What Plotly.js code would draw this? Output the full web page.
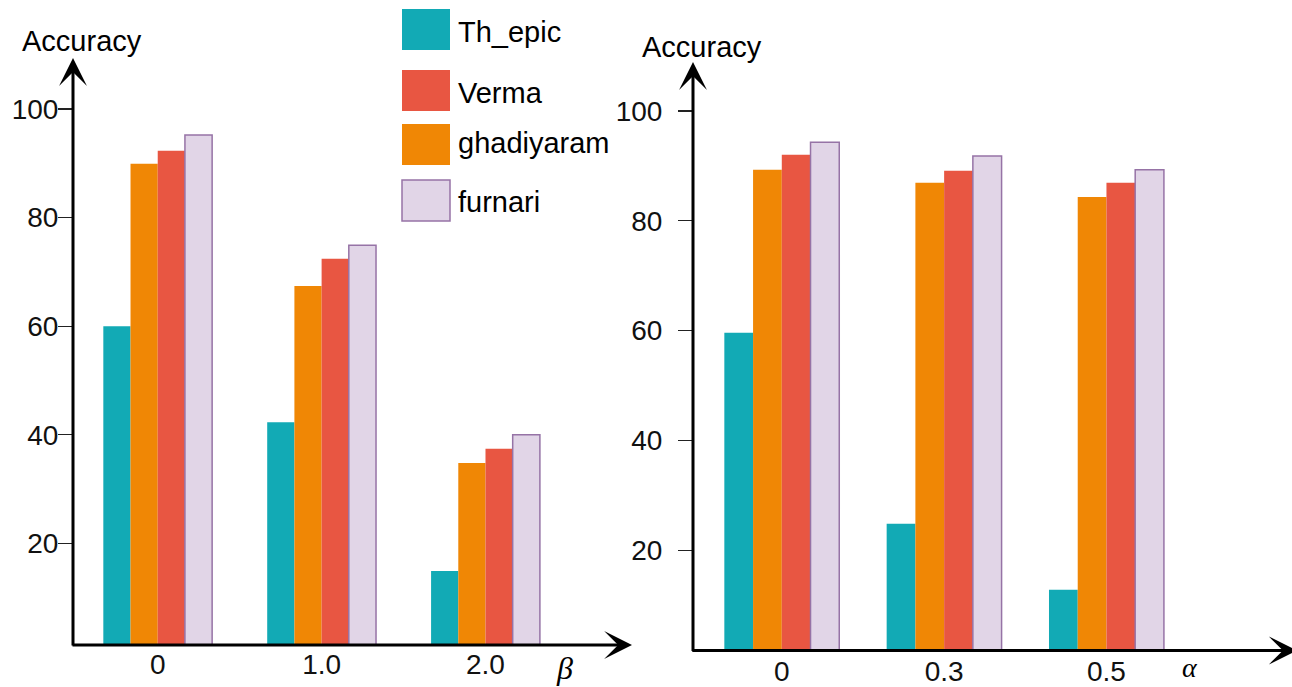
<!DOCTYPE html>
<html>
<head>
<meta charset="utf-8">
<script src="https://cdn.plot.ly/plotly-3.0.1.min.js"></script>
<style>
  html, body { margin: 0; padding: 0; background: #fff; }
  #chart { width: 1292px; height: 687px; }
</style>
</head>
<body>
<div id="chart"></div>
<script>
// ---------------- data ----------------
const betaGroups = ['0', '1.0', '2.0'];
const alphaGroups = ['0', '0.3', '0.5'];
const seriesNames = ['Th_epic', 'Verma', 'ghadiyaram', 'furnari'];

const betaThEpic = [60.0, 42.3, 14.9];
const betaVerma = [92.3, 72.4, 37.4];
const betaGhadiyaram = [89.9, 67.4, 34.8];
const betaFurnari = [95.2, 74.9, 40.0];

const alphaThEpic = [59.6, 24.8, 12.8];
const alphaVerma = [92.0, 89.1, 86.9];
const alphaGhadiyaram = [89.3, 86.9, 84.3];
const alphaFurnari = [94.3, 91.8, 89.3];

const yTickVals = [20, 40, 60, 80, 100];
const yTickText = ['20', '40', '60', '80', '100'];
const yTitle = 'Accuracy';
const betaLabel = 'β';
const alphaLabel = 'α';

// ---------------- styles ----------------
const W = 1292, H = 687;
const FONT = 'Liberation Sans, Arial, Helvetica, sans-serif';
const colors = {
  'Th_epic': '#12AAB5',
  'Verma': '#E85642',
  'ghadiyaram': '#F08705',
  'furnari': '#E1D5E7'
};
const borders = { 'furnari': '#9673A6' };
const barOrder = ['Th_epic', 'ghadiyaram', 'Verma', 'furnari'];

const px = v => v / W;
const py = v => 1 - v / H;

const betaValues = { 'Th_epic': betaThEpic, 'Verma': betaVerma, 'ghadiyaram': betaGhadiyaram, 'furnari': betaFurnari };
const alphaValues = { 'Th_epic': alphaThEpic, 'Verma': alphaVerma, 'ghadiyaram': alphaGhadiyaram, 'furnari': alphaFurnari };

const wLeft = 0.166, wRight = 0.177;
const traces = [];
barOrder.forEach((name, i) => {
  const line = borders[name] ? { color: borders[name], width: 1.5 } : { width: 0 };
  traces.push({
    type: 'bar', name: name, x: betaGroups, y: betaValues[name],
    xaxis: 'x', yaxis: 'y',
    width: wLeft, offset: (i - 2) * wLeft,
    marker: { color: colors[name], line: line },
    showlegend: false, hoverinfo: 'skip'
  });
  traces.push({
    type: 'bar', name: name, x: alphaGroups, y: alphaValues[name],
    xaxis: 'x2', yaxis: 'y2',
    width: wRight, offset: (i - 2) * wRight,
    marker: { color: colors[name], line: line },
    showlegend: false, hoverinfo: 'skip'
  });
});

// plot-area geometry (pixels)
const L = { x0: 73, x1: 632, yb: 645, yt: 58, yr: [1.27, 109.4], xr: [-0.517, 2.894] };
const R = { x0: 693, x1: 1292, yb: 650.5, yt: 62, yr: [1.73, 108.9], xr: [-0.547, 3.143] };

const tickFont = { family: FONT, size: 28, color: '#111' };

function xAxis(g, anchor, standoff) {
  return {
    domain: [px(g.x0), px(g.x1)], range: g.xr, type: 'category', anchor: anchor,
    showgrid: false, zeroline: false, showline: false, ticks: '',
    tickfont: tickFont, ticklabelstandoff: standoff, fixedrange: true
  };
}
function yAxis(g, anchor, standoff) {
  return {
    domain: [py(g.yb), py(g.yt)], range: g.yr, anchor: anchor,
    showgrid: false, zeroline: false, showline: false,
    tickvals: yTickVals, ticktext: yTickText,
    ticks: 'outside', ticklen: 14, tickwidth: 1.3, tickcolor: '#222',
    tickfont: tickFont, ticklabelstandoff: standoff, fixedrange: true
  };
}
function yOverlay(g, anchor, over) {
  return {
    domain: [py(g.yb), py(g.yt)], range: g.yr, anchor: anchor, overlaying: over, side: 'left',
    showgrid: false, zeroline: false, showline: false,
    tickvals: yTickVals, showticklabels: false,
    ticks: 'inside', ticklen: 13, tickwidth: 1.3, tickcolor: '#222', fixedrange: true
  };
}

function arrow(xref, yref, x, y, ax, ay) {
  return {
    xref: xref, yref: yref, x: x, y: y, ax: ax, ay: ay, axref: 'pixel', ayref: 'pixel',
    text: '', showarrow: true, arrowhead: 3, arrowsize: 1.55, arrowwidth: 3,
    arrowcolor: '#000', standoff: 0, startstandoff: 0
  };
}

const annotations = [
  // axis arrows
  arrow('x domain', 'y domain', 0, 1, 0, (L.yb - L.yt) + 2),
  arrow('x domain', 'y domain', 1, 0, -(L.x1 - L.x0) - 2, 0),
  arrow('x2 domain', 'y2 domain', 0, 1, 0, (R.yb - R.yt) + 2),
  arrow('x2 domain', 'y2 domain', 1.008, 0, -(R.x1 - R.x0) - 7, 0),
  // axis titles
  { xref: 'paper', yref: 'paper', x: px(82), y: py(41), text: yTitle, showarrow: false,
    xanchor: 'center', yanchor: 'middle', font: { family: FONT, size: 29, color: '#000' } },
  { xref: 'paper', yref: 'paper', x: px(702), y: py(47), text: yTitle, showarrow: false,
    xanchor: 'center', yanchor: 'middle', font: { family: FONT, size: 29, color: '#000' } },
  { xref: 'paper', yref: 'paper', x: px(564), y: py(668), text: '<i>' + betaLabel + '</i>', showarrow: false,
    xanchor: 'center', yanchor: 'middle', font: { family: 'Liberation Serif, Times New Roman, serif', size: 32, color: '#000' } },
  { xref: 'paper', yref: 'paper', x: px(1190), y: py(667), text: '<i>' + alphaLabel + '</i>', showarrow: false,
    xanchor: 'center', yanchor: 'middle', font: { family: 'Liberation Serif, Times New Roman, serif', size: 28, color: '#000' } }
];

// custom legend (large swatches)
const legendSwatchY = [9, 70, 124, 180];
const legendTextY = [32, 93, 143, 202];
const shapes = [];
seriesNames.forEach((name, i) => {
  shapes.push({
    type: 'rect', xref: 'paper', yref: 'paper',
    x0: px(402), x1: px(450), y0: py(legendSwatchY[i] + 41), y1: py(legendSwatchY[i]),
    fillcolor: colors[name],
    line: borders[name] ? { color: borders[name], width: 1.5 } : { width: 0 }
  });
  annotations.push({
    xref: 'paper', yref: 'paper', x: px(456), y: py(legendTextY[i]), text: name,
    showarrow: false, xanchor: 'left', yanchor: 'middle',
    font: { family: FONT, size: 29, color: '#000' }
  });
});

const layout = {
  width: W, height: H,
  margin: { l: 0, r: 0, t: 0, b: 0, pad: 0 },
  paper_bgcolor: '#fff', plot_bgcolor: 'rgba(0,0,0,0)',
  barmode: 'overlay', showlegend: false,
  font: { family: FONT, color: '#000' },
  xaxis: xAxis(L, 'y', 0),
  yaxis: yAxis(L, 'x', -6),
  xaxis2: xAxis(R, 'y2', 1),
  yaxis2: yAxis(R, 'x2', 10),
  yaxis3: yOverlay(L, 'x', 'y'),
  yaxis4: yOverlay(R, 'x2', 'y2'),
  shapes: shapes,
  annotations: annotations
};

Plotly.newPlot('chart', traces, layout, { displayModeBar: false, staticPlot: true });
</script>
</body>
</html>
